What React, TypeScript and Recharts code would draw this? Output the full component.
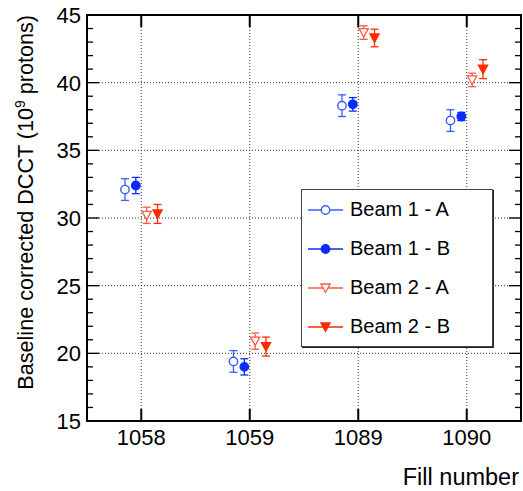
import React from 'react';
import {
  ScatterChart,
  Scatter,
  XAxis,
  YAxis,
  ErrorBar,
  ReferenceLine,
  ReferenceArea,
  Legend,
} from 'recharts';

const fillNumbers = ['1058', '1059', '1089', '1090'];
const seriesNames = ['Beam 1 - A', 'Beam 1 - B', 'Beam 2 - A', 'Beam 2 - B'];
const beam1A = [32.1, 19.4, 38.3, 37.2];
const beam1AErr = [0.8, 0.8, 0.8, 0.8];
const beam1B = [32.4, 19.0, 38.4, 37.5];
const beam1BErr = [0.6, 0.6, 0.5, 0.3];
const beam2A = [30.2, 20.9, 43.7, 40.2];
const beam2AErr = [0.6, 0.6, 0.5, 0.5];
const beam2B = [30.3, 20.5, 43.3, 41.0];
const beam2BErr = [0.7, 0.7, 0.65, 0.7];
const seriesOffsets = [-0.15, -0.05, 0.05, 0.15];
const xTicks = [0, 1, 2, 3];
const yTicks = [15, 16, 17, 18, 19, 20, 21, 22, 23, 24, 25, 26, 27, 28, 29, 30, 31, 32, 33, 34, 35, 36, 37, 38, 39, 40, 41, 42, 43, 44, 45];
const yMajorTicks = [15, 20, 25, 30, 35, 40, 45];
const yGrid = [20, 25, 30, 35, 40];

const FONT = '"Liberation Sans", Arial, Helvetica, sans-serif';
const W = 523;
const H = 491;
const PLOT_LEFT = 87;
const PLOT_RIGHT = 521;
const PLOT_TOP = 15;
const PLOT_BOTTOM = 421;

type Kind = 'openCircle' | 'circle' | 'openTri' | 'tri';
const seriesStyle: { kind: Kind; color: string }[] = [
  { kind: 'openCircle', color: '#3a5cff' },
  { kind: 'circle', color: '#0a2cff' },
  { kind: 'openTri', color: '#ff5a44' },
  { kind: 'tri', color: '#ff2a00' },
];

const Marker = ({ kind, color, cx, cy }: { kind: Kind; color: string; cx: number; cy: number }) => {
  if (kind === 'openCircle' || kind === 'circle') {
    return (
      <circle
        cx={cx}
        cy={cy}
        r={4.2}
        fill={kind === 'circle' ? color : '#fff'}
        stroke={color}
        strokeWidth={1.4}
      />
    );
  }
  const pts = `${cx - 4.6},${cy - 4} ${cx + 4.6},${cy - 4} ${cx},${cy + 4.5}`;
  return (
    <polygon
      points={pts}
      fill={kind === 'tri' ? color : '#fff'}
      stroke={color}
      strokeWidth={1.3}
      strokeLinejoin="miter"
    />
  );
};

const buildSeries = (vals: number[], errs: number[], off: number) =>
  fillNumbers.map((f, i) => ({ x: i + off, y: vals[i], err: errs[i], fill: f }));

const seriesData = [
  buildSeries(beam1A, beam1AErr, seriesOffsets[0]),
  buildSeries(beam1B, beam1BErr, seriesOffsets[1]),
  buildSeries(beam2A, beam2AErr, seriesOffsets[2]),
  buildSeries(beam2B, beam2BErr, seriesOffsets[3]),
];

const XTick = (props: any) => {
  const { x, payload } = props;
  const idx = payload.value as number;
  return (
    <g>
      <line x1={x} x2={x} y1={PLOT_BOTTOM} y2={PLOT_BOTTOM - 12} stroke="#000" strokeWidth={2} />
      <line x1={x} x2={x} y1={PLOT_TOP} y2={PLOT_TOP + 12} stroke="#000" strokeWidth={2} />
      <text x={x} y={PLOT_BOTTOM + 24} textAnchor="middle" fontSize={22} fontFamily={FONT} fill="#000">
        {fillNumbers[idx]}
      </text>
    </g>
  );
};

const YTick = (props: any) => {
  const { y, payload } = props;
  const v = payload.value as number;
  const major = yMajorTicks.includes(v);
  const len = major ? 12 : 6;
  return (
    <g>
      <line x1={PLOT_LEFT} x2={PLOT_LEFT + len} y1={y} y2={y} stroke="#000" strokeWidth={1.3} />
      <line x1={PLOT_RIGHT} x2={PLOT_RIGHT - len} y1={y} y2={y} stroke="#000" strokeWidth={1.3} />
      {major && (
        <text x={PLOT_LEFT - 6} y={y} dy="0.36em" textAnchor="end" fontSize={22} fontFamily={FONT} fill="#000">
          {v}
        </text>
      )}
    </g>
  );
};

const YTitle = () => (
  <text
    transform={`translate(33, ${PLOT_TOP}) rotate(-90)`}
    x={0}
    y={0}
    textAnchor="end"
    fontSize={21.6}
    fontFamily={FONT}
    fill="#000"
  >
    Baseline corrected DCCT (10
    <tspan dy={-8} fontSize={14}>9</tspan>
    <tspan dy={8}> protons)</tspan>
  </text>
);

const XTitle = () => (
  <text x={519} y={485} textAnchor="end" fontSize={23.5} fontFamily={FONT} fill="#000">
    Fill number
  </text>
);

const LegendBox = () => (
  <div
    style={{
      width: 192,
      height: 158,
      boxSizing: 'border-box',
      border: '1px solid #444',
      boxShadow: '1px 1px 0 #222',
      background: '#fff',
      fontFamily: FONT,
      display: 'flex',
      flexDirection: 'column',
      justifyContent: 'space-around',
      paddingTop: 0,
    }}
  >
    {seriesNames.map((name, i) => (
      <div key={name} style={{ display: 'flex', alignItems: 'center', height: 39 }}>
        <svg width={48} height={20} style={{ display: 'block' }}>
          <line x1={6} x2={41} y1={10} y2={10} stroke={seriesStyle[i].color} strokeWidth={1.4} />
          <Marker kind={seriesStyle[i].kind} color={seriesStyle[i].color} cx={23.5} cy={10} />
        </svg>
        <span style={{ fontSize: 20, color: '#000', whiteSpace: 'nowrap' }}>{name}</span>
      </div>
    ))}
  </div>
);

export default function App() {
  return (
    <div style={{ position: 'absolute', left: 0, top: 0, width: W, height: H, background: '#fff' }}>
      <ScatterChart width={W} height={H} margin={{ top: PLOT_TOP, right: W - PLOT_RIGHT, bottom: 0, left: 0 }}>
        <XAxis
          type="number"
          dataKey="x"
          domain={[-0.5, 3.5]}
          ticks={xTicks}
          allowDataOverflow
          height={H - PLOT_BOTTOM}
          axisLine={false}
          tickLine={false}
          tickSize={0}
          tickMargin={0}
          interval={0}
          tick={<XTick />}
          label={<XTitle />}
        />
        <YAxis
          type="number"
          dataKey="y"
          domain={[15, 45]}
          ticks={yTicks}
          allowDataOverflow
          width={PLOT_LEFT}
          axisLine={false}
          tickLine={false}
          tickSize={0}
          tickMargin={0}
          interval={0}
          tick={<YTick />}
          label={<YTitle />}
        />
        {yGrid.map((v) => (
          <ReferenceLine key={`gy${v}`} y={v} stroke="#333" strokeWidth={1} strokeDasharray="1 2" />
        ))}
        {xTicks.map((v) => (
          <ReferenceLine key={`gx${v}`} x={v} stroke="#333" strokeWidth={1} strokeDasharray="1 2" />
        ))}
        <ReferenceArea x1={-0.5} x2={3.5} y1={15} y2={45} fill="none" fillOpacity={0} stroke="#000" strokeWidth={2} />
        {seriesData.map((d, i) => (
          <Scatter
            key={seriesNames[i]}
            name={seriesNames[i]}
            data={d}
            isAnimationActive={false}
            shape={(p: any) => <Marker kind={seriesStyle[i].kind} color={seriesStyle[i].color} cx={p.cx} cy={p.cy} />}
          >
            <ErrorBar dataKey="err" direction="y" width={4} stroke={seriesStyle[i].color} strokeWidth={1.3} isAnimationActive={false} />
          </Scatter>
        ))}
        <Legend
          layout="vertical"
          align="center"
          verticalAlign="middle"
          content={() => <LegendBox />}
          wrapperStyle={{ left: 301, top: 189, width: 192, height: 158 }}
        />
      </ScatterChart>
    </div>
  );
}
